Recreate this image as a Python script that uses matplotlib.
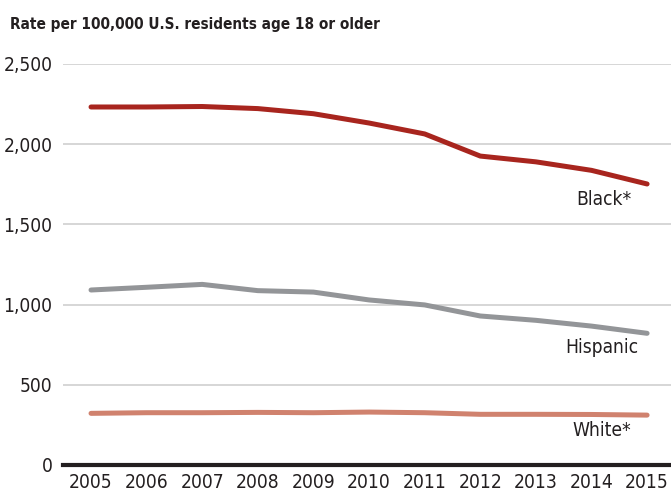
import matplotlib
matplotlib.use("Agg")
import matplotlib.pyplot as plt
from matplotlib import font_manager as fm

names = sorted(set(f.name for f in fm.fontManager.ttflist))
fam = "Liberation Sans Narrow" if "Liberation Sans Narrow" in names else "DejaVu Sans"
plt.rcParams['font.family'] = [fam, 'DejaVu Sans']
if fam == "DejaVu Sans":
    plt.rcParams['font.stretch'] = 'condensed'

years = [2005, 2006, 2007, 2008, 2009, 2010, 2011, 2012, 2013, 2014, 2015]
black = [2232, 2232, 2235, 2222, 2190, 2132, 2064, 1926, 1890, 1837, 1752]
hispanic = [1091, 1108, 1126, 1087, 1078, 1029, 998, 929, 902, 866, 821]
white = [322, 326, 326, 328, 326, 330, 326, 316, 316, 315, 311]
yticks = [0, 500, 1000, 1500, 2000, 2500]
ytick_labels = ["0", "500", "1,000", "1,500", "2,000", "2,500"]

fig = plt.figure(figsize=(6.71, 4.93), dpi=100)
ax = fig.add_axes([63/671, 1-465/493, 1-63/671, (465-64)/493])
ax.set_xlim(2004.496, 2015.43)
ax.set_ylim(0, 2500)

for v in yticks[1:]:
    ax.axhline(v, color="#d0d0d0", lw=1.2, zorder=1)
ax.axhline(0, color="#231f20", lw=3, zorder=3, clip_on=False)

lw = 3.6
ax.plot(years, black, color="#a8251e", lw=lw, solid_capstyle="round", solid_joinstyle="round", zorder=4)
ax.plot(years, hispanic, color="#939598", lw=lw, solid_capstyle="round", solid_joinstyle="round", zorder=4)
ax.plot(years, white, color="#d0826e", lw=lw, solid_capstyle="round", solid_joinstyle="round", zorder=4)

ax.set_xticks(years)
ax.set_xticklabels([str(y) for y in years], fontsize=13.8, color="#231f20")
ax.set_yticks(yticks)
ax.set_yticklabels(ytick_labels, fontsize=13.8, color="#231f20")
ax.tick_params(length=0)
ax.tick_params(axis='x', pad=6)
ax.tick_params(axis='y', pad=7.5)
for s in ax.spines.values():
    s.set_visible(False)

lab = dict(fontsize=13.8, color="#231f20", ha="right", va="center")
ax.text(2014.72, 1655, "Black*", **lab)
ax.text(2014.85, 735, "Hispanic", **lab)
ax.text(2014.72, 213, "White*", **lab)

fig.text(10/671, 1-24/493, "Rate per 100,000 U.S. residents age 18 or older",
         fontsize=11, fontweight="bold", color="#231f20", ha="left", va="center")

fig.savefig("out.png", dpi=100)
